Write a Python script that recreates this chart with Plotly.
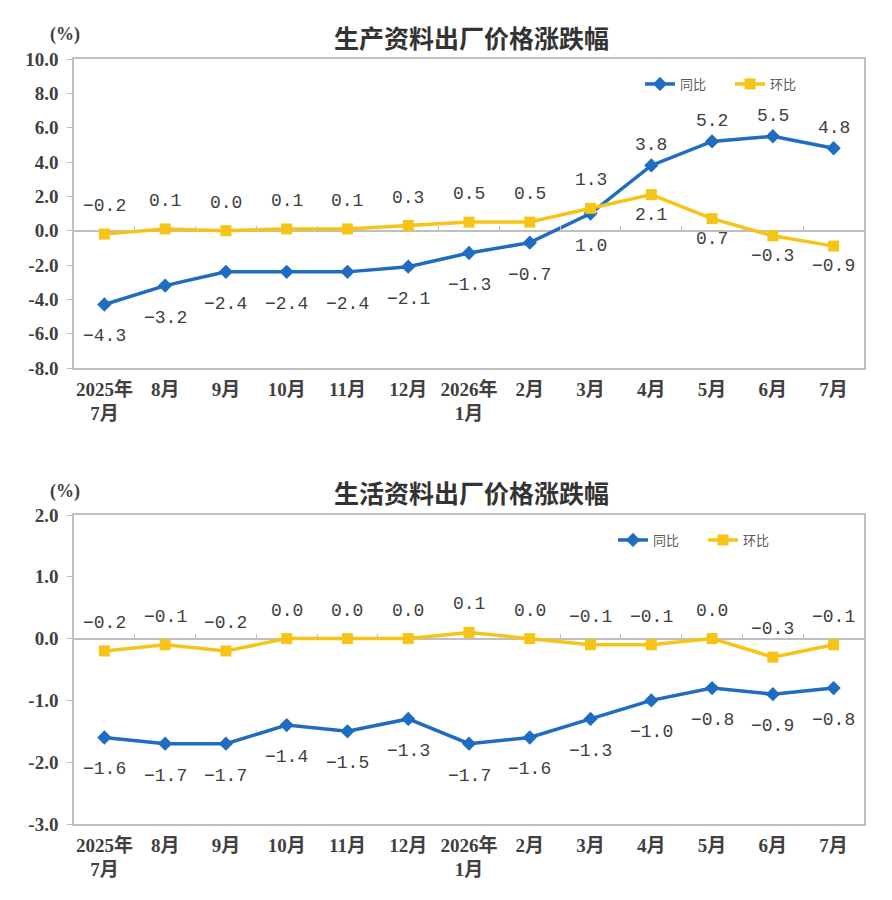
import plotly.graph_objects as go

# 月份类别
months = ["2025年<br>7月", "8月", "9月", "10月", "11月", "12月", "2026年<br>1月",
          "2月", "3月", "4月", "5月", "6月", "7月"]

# 生产资料
prod_yoy = [-4.3, -3.2, -2.4, -2.4, -2.4, -2.1, -1.3, -0.7, 1.0, 3.8, 5.2, 5.5, 4.8]
prod_mom = [-0.2, 0.1, 0.0, 0.1, 0.1, 0.3, 0.5, 0.5, 1.3, 2.1, 0.7, -0.3, -0.9]

# 生活资料
cons_yoy = [-1.6, -1.7, -1.7, -1.4, -1.5, -1.3, -1.7, -1.6, -1.3, -1.0, -0.8, -0.9, -0.8]
cons_mom = [-0.2, -0.1, -0.2, 0.0, 0.0, 0.0, 0.1, 0.0, -0.1, -0.1, 0.0, -0.3, -0.1]

prod_ticks = [10.0, 8.0, 6.0, 4.0, 2.0, 0.0, -2.0, -4.0, -6.0, -8.0]
cons_ticks = [2.0, 1.0, 0.0, -1.0, -2.0, -3.0]

BLUE = "#1f6cc0"
YELLOW = "#f5c416"
GRAY = "#bfbfbf"
TXT = "#404040"
SERIF = "Liberation Serif, Noto Sans CJK SC"
MONO = "Liberation Mono, DejaVu Sans Mono"

W, H = 892, 900
X0, X1 = 74 / W, 864 / W
panels = [
    dict(title="生产资料出厂价格涨跌幅", yoy=prod_yoy, mom=prod_mom, ticks=prod_ticks,
         top=59, bottom=368, title_y=37, legend_x=640, legend_y=84),
    dict(title="生活资料出厂价格涨跌幅", yoy=cons_yoy, mom=cons_mom, ticks=cons_ticks,
         top=515, bottom=824, title_y=492, legend_x=613, legend_y=540),
]

fig = go.Figure()
annotations = []
layout = {}

for i, p in enumerate(panels):
    n = i + 1
    xa = "x" if n == 1 else f"x{n}"
    ya = "y" if n == 1 else f"y{n}"
    lg = "legend" if n == 1 else f"legend{n}"
    ymin, ymax = min(p["ticks"]), max(p["ticks"])
    dom = [1 - p["bottom"] / H, 1 - p["top"] / H]

    fig.add_trace(go.Scatter(
        x=months, y=p["yoy"], name="同比", xaxis=xa, yaxis=ya, legend=lg,
        mode="lines+markers", line=dict(color=BLUE, width=3.5),
        marker=dict(symbol="diamond", size=11, color=BLUE)))
    fig.add_trace(go.Scatter(
        x=months, y=p["mom"], name="环比", xaxis=xa, yaxis=ya, legend=lg,
        mode="lines+markers", line=dict(color=YELLOW, width=3.5),
        marker=dict(symbol="square", size=11, color=YELLOW)))

    # 零线上的分隔刻度（透明辅助轨迹）
    zx = f"x{n + 2}"
    fig.add_trace(go.Scatter(x=months, y=p["yoy"], xaxis=zx, yaxis=ya, mode="lines",
                             line=dict(width=0), opacity=0, showlegend=False,
                             hoverinfo="skip"))

    # 数据标签
    for series, other, color in [(p["yoy"], p["mom"], "b"), (p["mom"], p["yoy"], "y")]:
        for m, v, o in zip(months, series, other):
            above = v >= o
            if color == "b":
                shift = 20 if above else -32
            else:
                shift = 28 if above else -20
            annotations.append(dict(
                x=m, y=v, xref=xa, yref=ya, text=f"{v:.1f}".replace("-", "−"),
                showarrow=False, yshift=shift, yanchor="middle",
                font=dict(family=MONO, size=18, color=TXT)))

    annotations.append(dict(x=471 / W, y=1 - p["title_y"] / H, xref="paper", yref="paper",
                            text=p["title"], showarrow=False, yanchor="middle",
                            font=dict(family="Noto Sans CJK SC", size=25, color="#333333",
                                      weight="bold")))
    annotations.append(dict(x=48 / W, y=1 - (p["top"] - 24) / H, xref="paper", yref="paper",
                            text="(%)", showarrow=False, yanchor="middle",
                            font=dict(family=SERIF, size=18, color=TXT, weight="bold")))

    axis_font = dict(family=SERIF, size=19, color=TXT, weight="bold")
    layout[xa.replace("x", "xaxis")] = dict(
        domain=[X0, X1], anchor=ya, type="category", categoryarray=months,
        range=[-0.5, len(months) - 0.5], showline=True, mirror=True, linecolor=GRAY,
        linewidth=1.5, ticks="", tickfont=axis_font, showgrid=False, ticklabelstandoff=3,
        automargin=False)
    layout[zx.replace("x", "xaxis")] = dict(
        overlaying=xa, anchor="free",
        position=dom[0] + (0 - ymin) / (ymax - ymin) * (dom[1] - dom[0]),
        type="category", categoryarray=months, range=[-0.5, len(months) - 0.5],
        tickson="boundaries", ticks="inside", ticklen=5, tickcolor=GRAY,
        showticklabels=False, showline=False, showgrid=False, automargin=False)
    layout[ya.replace("y", "yaxis")] = dict(
        domain=dom, anchor=xa, range=[ymin, ymax], tickvals=p["ticks"],
        ticktext=[f"{t:.1f}" for t in p["ticks"]], showline=True, mirror=True,
        linecolor=GRAY, linewidth=1.5, ticks="outside", ticklen=5, tickcolor=GRAY,
        tickfont=axis_font, showgrid=False, zeroline=True, zerolinecolor=GRAY,
        zerolinewidth=1.5, ticklabelstandoff=5, automargin=False)
    layout[lg] = dict(x=p["legend_x"] / W, y=1 - p["legend_y"] / H, xanchor="left",
                      yanchor="middle", orientation="h", bgcolor="rgba(0,0,0,0)",
                      font=dict(family="Noto Sans CJK SC", size=13, color="#595959"),
                      entrywidth=45, traceorder="normal")

fig.update_layout(
    width=W, height=H, margin=dict(l=0, r=0, t=0, b=0),
    paper_bgcolor="white", plot_bgcolor="white",
    annotations=annotations, hovermode=False, **layout)

fig.write_html("out.html", config=dict(displayModeBar=False),
               post_script="document.body.style.margin='0';"
                           "document.body.style.overflow='hidden';")
